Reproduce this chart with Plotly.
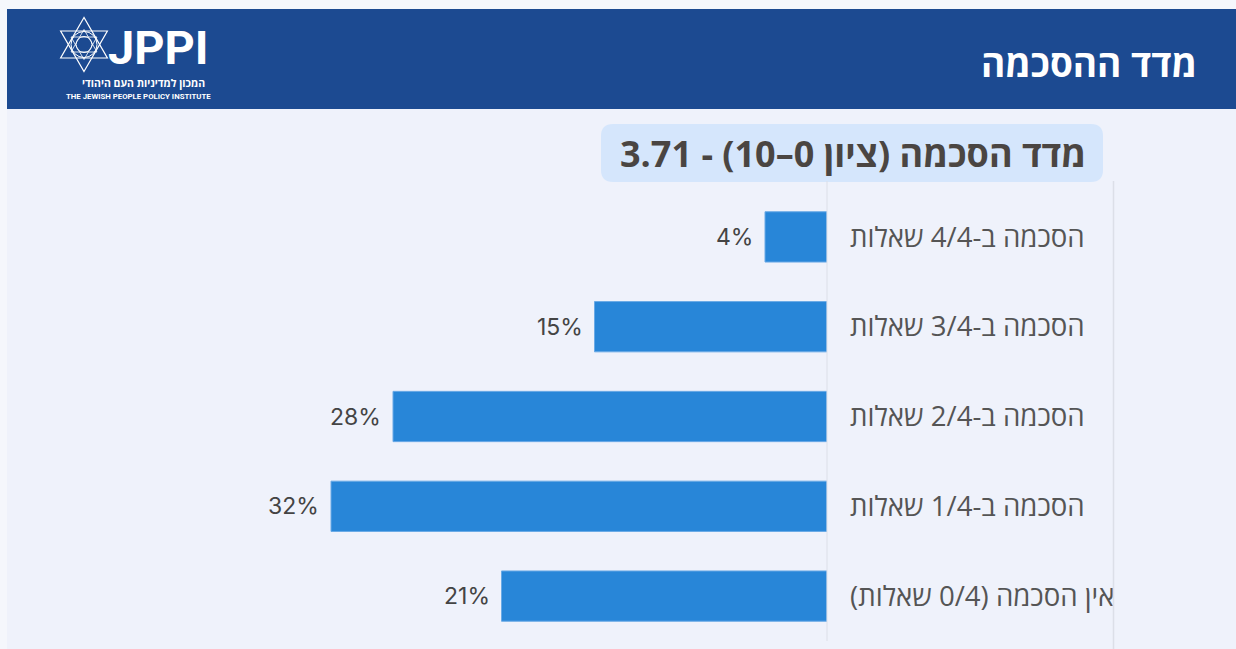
import math
import plotly.graph_objects as go

# ---------------------------------------------------------------
# data
categories = [
    "הסכמה ב-4/4 שאלות",
    "הסכמה ב-3/4 שאלות",
    "הסכמה ב-2/4 שאלות",
    "הסכמה ב-1/4 שאלות",
    "\u200fאין הסכמה (0/4 שאלות)\u200f",
]
values = [4, 15, 28, 32, 21]
value_labels = ["4%", "15%", "28%", "32%", "21%"]

header_title = "מדד ההסכמה"
chart_title = "מדד הסכמה (ציון 0–10) - 3.71"
logo_he = "המכון למדיניות העם היהודי"
logo_en = "THE JEWISH PEOPLE POLICY INSTITUTE"
# ---------------------------------------------------------------

W, H = 1236, 649
OFF = 0  # body margin removed below, so page pixels == figure pixels
ZERO_X, PLOT_TOP, PLOT_BOT = 827, 192, 641
ML = 60
MR = W - (ZERO_X - OFF)
MT = PLOT_TOP - OFF
MB = H - (PLOT_BOT - OFF)
PW = W - ML - MR
PH = H - MT - MB
PX_PER_UNIT = 15.5

PAGE = "#f5f7fc"
BG = "#eff2fb"
NAVY = "#1c4a91"
BAR = "#2886d8"
HEB = "Open Sans, Noto Sans, DejaVu Sans, sans-serif"


def fx(px):
    return (px - OFF - ML) / PW


def fy(py):
    return (H - MB - (py - OFF)) / PH


def rounded_rect(x0, y0, x1, y1, r):
    rx = r / PW
    ry = r / PH
    a, b, c, d = fx(x0), fy(y0), fx(x1), fy(y1)  # b top, d bottom
    return (f"M{a+rx},{b} L{c-rx},{b} Q{c},{b} {c},{b-ry} "
            f"L{c},{d+ry} Q{c},{d} {c-rx},{d} L{a+rx},{d} "
            f"Q{a},{d} {a},{d+ry} L{a},{b-ry} Q{a},{b} {a+rx},{b} Z")


fig = go.Figure()
fig.add_trace(go.Bar(
    x=values,
    y=categories,
    orientation="h",
    width=0.56,
    marker=dict(color=BAR, line=dict(color="#6aaae6", width=1)),
    hoverinfo="skip",
))

shapes = []
# content background and header band
shapes.append(dict(type="rect", xref="paper", yref="paper",
                   x0=fx(7), x1=fx(W + 10), y0=fy(H + 10), y1=fy(9),
                   fillcolor=BG, line=dict(width=0), layer="below"))
shapes.append(dict(type="rect", xref="paper", yref="paper",
                   x0=fx(7), x1=fx(W + 10), y0=fy(109), y1=fy(9),
                   fillcolor=NAVY, line=dict(width=0), layer="below"))
# title box
shapes.append(dict(type="path", xref="paper", yref="paper",
                   path=rounded_rect(601, 124, 1103, 182, 12),
                   fillcolor="#d5e6fc", line=dict(width=0), layer="below"))
# zero line and right divider
shapes.append(dict(type="line", xref="paper", yref="paper",
                   x0=fx(827), x1=fx(827), y0=fy(641), y1=fy(181),
                   line=dict(color="#dcdfe8", width=1)))
shapes.append(dict(type="line", xref="paper", yref="paper",
                   x0=fx(1113.5), x1=fx(1113.5), y0=fy(660), y1=fy(181),
                   line=dict(color="#dcdfe8", width=1.5)))

# star of David logo
cx, cy, rr = 84, 44.5, 27
for rad, wid in ((rr, 1.2), (15, 0.8)):
    for rot in (90, 270):
        pts = []
        for k in range(3):
            ang = math.radians(rot + k * 120)
            pts.append((cx + rad * math.cos(ang), cy - rad * math.sin(ang)))
        p = "M" + " L".join(f"{fx(a)},{fy(b)}" for a, b in pts) + " Z"
        shapes.append(dict(type="path", xref="paper", yref="paper", path=p,
                           line=dict(color="white", width=wid)))
for r0 in (13, 8):
    shapes.append(dict(type="circle", xref="paper", yref="paper",
                       x0=fx(cx - r0), x1=fx(cx + r0), y0=fy(cy + r0), y1=fy(cy - r0),
                       line=dict(color="white", width=1)))

annotations = []
for v, cat, lab in zip(values, categories, value_labels):
    annotations.append(dict(x=v, y=cat, xref="x", yref="y", text=lab,
                            showarrow=False, xanchor="right", xshift=-10,
                            font=dict(family="Inter, Roboto, sans-serif", size=23, color="#444444")))

annotations += [
    dict(x=fx(1199), y=fy(62), xref="paper", yref="paper", text=header_title,
         showarrow=False, xanchor="right", yanchor="middle",
         font=dict(family=HEB, size=37, color="white", weight="bold")),
    dict(x=fx(853), y=fy(153), xref="paper", yref="paper", text=chart_title,
         showarrow=False, xanchor="center", yanchor="middle",
         font=dict(family=HEB, size=36, color="#4a4542", weight="bold")),
    dict(x=fx(106), y=fy(48), xref="paper", yref="paper", text="JPPI",
         showarrow=False, xanchor="left", yanchor="middle",
         font=dict(family="Roboto, sans-serif", size=47, color="white", weight="bold")),
    dict(x=fx(207), y=fy(83), xref="paper", yref="paper", text=logo_he,
         showarrow=False, xanchor="right", yanchor="middle",
         font=dict(family=HEB, size=10.5, color="white", weight="bold")),
    dict(x=fx(64), y=fy(96), xref="paper", yref="paper", text=logo_en,
         showarrow=False, xanchor="left", yanchor="middle",
         font=dict(family="Roboto, sans-serif", size=7.8, color="white", weight="bold")),
]

fig.update_layout(
    width=W, height=H,
    margin=dict(l=ML, r=MR, t=MT, b=MB),
    paper_bgcolor=PAGE, plot_bgcolor=BG,
    showlegend=False,
    hovermode=False,
    shapes=shapes,
    annotations=annotations,
)
fig.update_xaxes(range=[PW / PX_PER_UNIT, 0], visible=False, fixedrange=True)
fig.update_yaxes(
    side="right", autorange="reversed", showgrid=False, zeroline=False,
    showline=False, ticks="", ticklabelstandoff=22,
    tickfont=dict(family=HEB, size=27.6, color="#555555"),
    fixedrange=True,
)

fig.write_html(
    "out.html",
    config={"displayModeBar": False},
    post_script="document.body.style.margin='0';"
                "document.body.style.background='#f5f7fc';"
                "document.body.style.overflow='hidden';",
)
